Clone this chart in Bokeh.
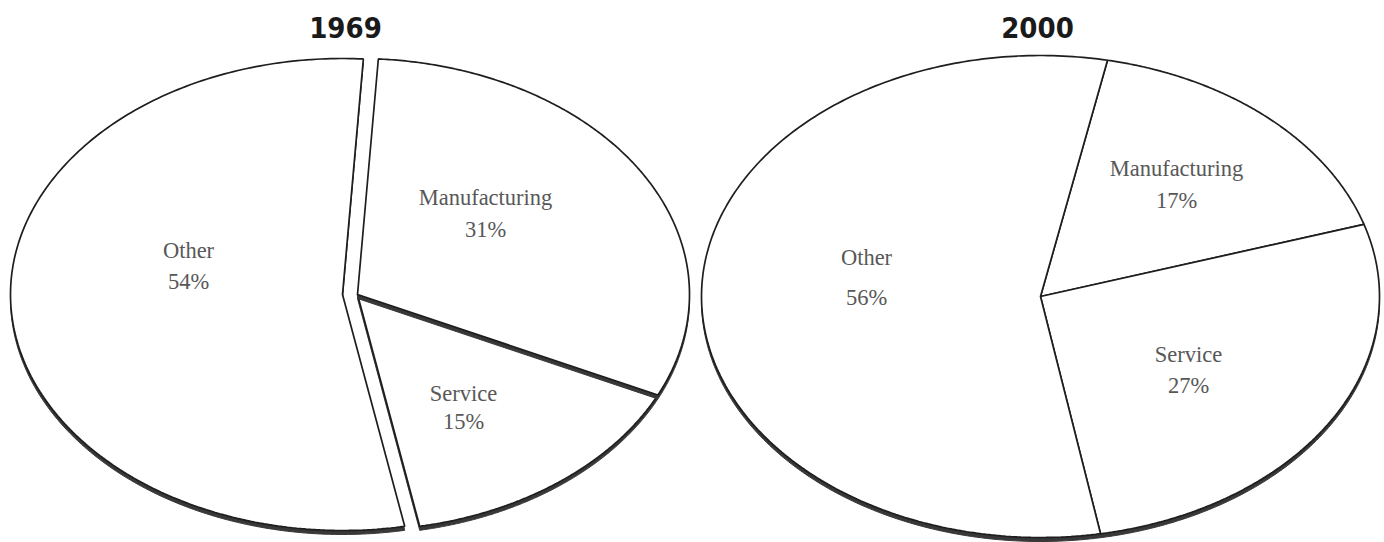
import numpy as np
from bokeh.plotting import figure
from bokeh.models import Range1d, ColumnDataSource
from bokeh.core.properties import value
from bokeh.embed import file_html
from bokeh.resources import INLINE

# ---------------- data ----------------
years = ["1969", "2000"]
categories = ["Manufacturing", "Service", "Other"]
values_1969 = [31, 15, 54]
values_2000 = [17, 27, 56]

# ---------------- layout / style ----------------
W, H = 1384, 542
pie_style = [
    dict(cx=357, cy=294, rx=332, ry=236, start=86.4, explode=(-15, 0), title_x=345, per_slice_shadow=True),
    dict(cx=1040, cy=296, rx=339, ry=241, start=78.6, explode=(0, 0), title_x=1037, per_slice_shadow=False),
]
title_y = 27
label_pos = [
    # (x, name_y, pct_y) for Manufacturing, Service, Other
    [(485, 197, 229), (463, 393, 421), (188, 250, 281)],
    [(1176, 168, 200), (1188, 354, 385), (866, 257, 297)],
]
shadow_dy = 4
shadow_color = "#383838"
edge_color = "#1e1e1e"
label_color = "#585858"
serif = value("Liberation Serif")

p = figure(width=W, height=H, x_range=Range1d(0, W), y_range=Range1d(H, 0),
           output_backend="svg", toolbar_location=None, min_border=0)
p.axis.visible = False
p.grid.visible = False
p.outline_line_color = None
p.background_fill_color = "white"
p.border_fill_color = "white"


def slice_poly(cx, cy, rx, ry, a0, a1, n=240):
    t = np.radians(np.linspace(a0, a1, n))
    xs = np.concatenate([[cx], cx + rx * np.cos(t)])
    ys = np.concatenate([[cy], cy - ry * np.sin(t)])
    return xs.tolist(), ys.tolist()


for vals, st, lp, yr in zip([values_1969, values_2000], pie_style, label_pos, years):
    total = float(sum(vals))
    a = st["start"]
    polys = []
    for cat, v in zip(categories, vals):
        span = 360.0 * v / total
        cx, cy = st["cx"], st["cy"]
        if cat == "Other":
            cx += st["explode"][0]
            cy += st["explode"][1]
        polys.append(slice_poly(cx, cy, st["rx"], st["ry"], a, a - span))
        a -= span

    if st["per_slice_shadow"]:
        for i in [2, 1, 0]:
            xs, ys = polys[i]
            p.patch(xs, [y + shadow_dy for y in ys], fill_color=shadow_color, line_color=shadow_color, line_width=1)
            p.patch(xs, ys, fill_color="white", line_color=edge_color, line_width=1.7)
    else:
        for xs, ys in polys:
            p.patch(xs, [y + shadow_dy for y in ys], fill_color=shadow_color, line_color=shadow_color, line_width=1)
        for xs, ys in polys:
            p.patch(xs, ys, fill_color="white", line_color=edge_color, line_width=1.7)

    src = ColumnDataSource(dict(
        x=[q[0] for q in lp],
        yn=[q[1] for q in lp],
        yp=[q[2] for q in lp],
        name=categories,
        pct=[f"{v}%" for v in vals],
    ))
    p.text(x="x", y="yn", text="name", source=src, text_font=serif, text_font_size="22.5px",
           text_color=label_color, text_align="center", text_baseline="middle")
    p.text(x="x", y="yp", text="pct", source=src, text_font=serif, text_font_size="22.5px",
           text_color=label_color, text_align="center", text_baseline="middle")

    p.text(x=[st["title_x"]], y=[title_y], text=[yr], text_font=value("DejaVu Sans Condensed, Liberation Sans, sans-serif"),
           text_font_style="bold", text_font_size="29px", text_color="#1a1a1a",
           text_align="center", text_baseline="middle")

open("out.html", "w").write(file_html(p, INLINE))
